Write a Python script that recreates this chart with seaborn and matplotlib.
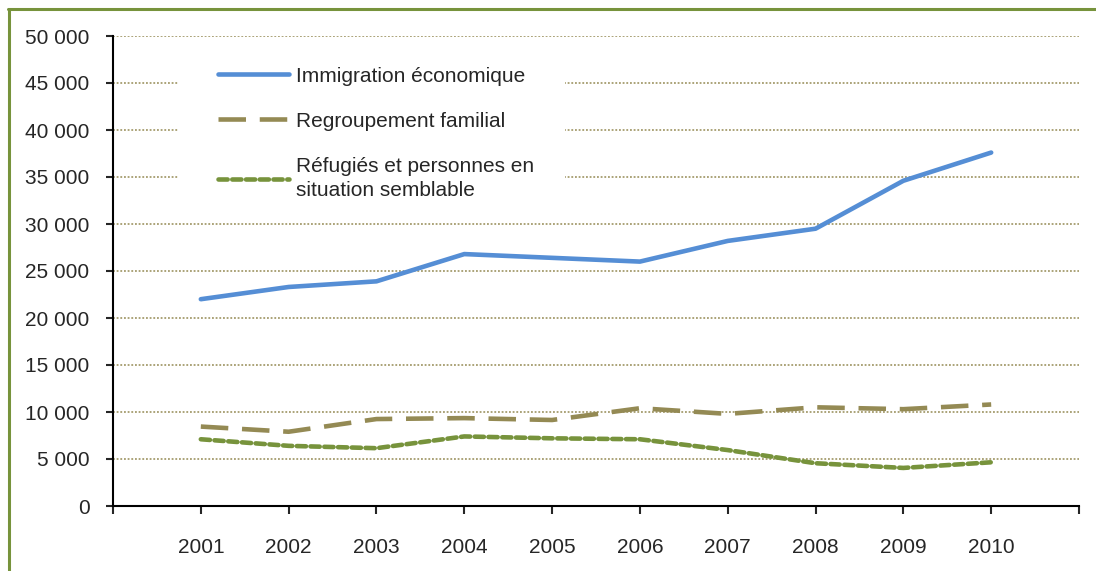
import pandas as pd
import matplotlib.pyplot as plt
import seaborn as sns
from matplotlib.lines import Line2D
from matplotlib.patches import Rectangle
from matplotlib.ticker import FuncFormatter

# valeurs
annees = [2001, 2002, 2003, 2004, 2005, 2006, 2007, 2008, 2009, 2010]
immigration_eco = [22000, 23300, 23900, 26800, 26400, 26000, 28200, 29500, 34600, 37600]
regroupement = [8450, 7900, 9250, 9350, 9150, 10400, 9800, 10500, 10300, 10800]
refugies = [7100, 6400, 6150, 7400, 7200, 7100, 5950, 4550, 4050, 4650]

noms = ["Immigration économique", "Regroupement familial",
        "Réfugiés et personnes en\nsituation semblable"]
couleurs = ["#558ED5", "#948A54", "#77933C"]
tirets = [(None, None), (6, 3), (2, 1)]

df = pd.DataFrame({"annee": annees * 3,
                   "valeur": immigration_eco + regroupement + refugies,
                   "serie": [noms[0]] * 10 + [noms[1]] * 10 + [noms[2]] * 10})

sns.set_style("white")
plt.rcParams['font.family'] = ['Liberation Sans', 'DejaVu Sans']

fig = plt.figure(figsize=(10.96, 5.71), dpi=100)
ax = fig.add_axes([113 / 1096, 1 - 506 / 571, (1079 - 113) / 1096, (506 - 36) / 571])

for nom, c, d in zip(noms, couleurs, tirets):
    sub = df[df["serie"] == nom]
    kw = {} if d[0] is None else {"dashes": d}
    sns.lineplot(data=sub, x="annee", y="valeur", color=c, linewidth=3.3,
                 ax=ax, legend=False, solid_capstyle="round", zorder=3,
                 dash_capstyle="round" if nom == noms[2] else "butt", **kw)

ax.set_xlim(2000, 2011)
ax.set_ylim(0, 50000)
ax.set_xticks(range(2000, 2012))
ax.set_xticklabels([""] + [str(a) for a in annees] + [""])
ax.set_yticks(range(0, 50001, 5000))
ax.yaxis.set_major_formatter(FuncFormatter(lambda v, p: f"{int(v):,}".replace(",", " ")))
ax.set_xlabel("")
ax.set_ylabel("")

ax.grid(axis="y", color="#948A54", linestyle=(0, (1.2, 1.2)), linewidth=1.1)
ax.set_axisbelow(True)
for s in ["top", "right"]:
    ax.spines[s].set_visible(False)
for s in ["left", "bottom"]:
    ax.spines[s].set_color("black")
    ax.spines[s].set_linewidth(1.5)

ax.tick_params(axis="y", direction="out", length=5, width=1.5, pad=12,
               labelsize=15, left=True)
ax.tick_params(axis="x", direction="out", length=6, width=1.5, pad=17,
               labelsize=15, bottom=True)

# fond blanc de la légende (cache le quadrillage)
ax.add_patch(Rectangle((0.067, 0.64), 0.401, 0.32, transform=ax.transAxes,
                       facecolor="white", edgecolor="none", zorder=1))

poignees = [Line2D([], [], color=couleurs[0], linewidth=3.3, solid_capstyle="round"),
            Line2D([], [], color=couleurs[1], linewidth=3.3, dashes=(6, 3)),
            Line2D([], [], color=couleurs[2], linewidth=3.3, dashes=(2, 1),
                   dash_capstyle="round")]
leg = ax.legend(poignees, noms, loc="upper left", bbox_to_anchor=(0.098, 0.957),
                frameon=False, fontsize=15, handlelength=3.4, handletextpad=0.35,
                labelspacing=1.25, borderpad=0)
for t in leg.get_texts():
    t.set_linespacing(1.35)

# cadre vert autour du graphique
fig.add_artist(Line2D([9 / 1096, 9 / 1096], [0, 1 - 9 / 571], color="#77933C",
                      linewidth=2.2, transform=fig.transFigure))
fig.add_artist(Line2D([8 / 1096, 1], [1 - 9 / 571, 1 - 9 / 571], color="#77933C",
                      linewidth=2.2, transform=fig.transFigure))

plt.savefig("out.png", dpi=100)
